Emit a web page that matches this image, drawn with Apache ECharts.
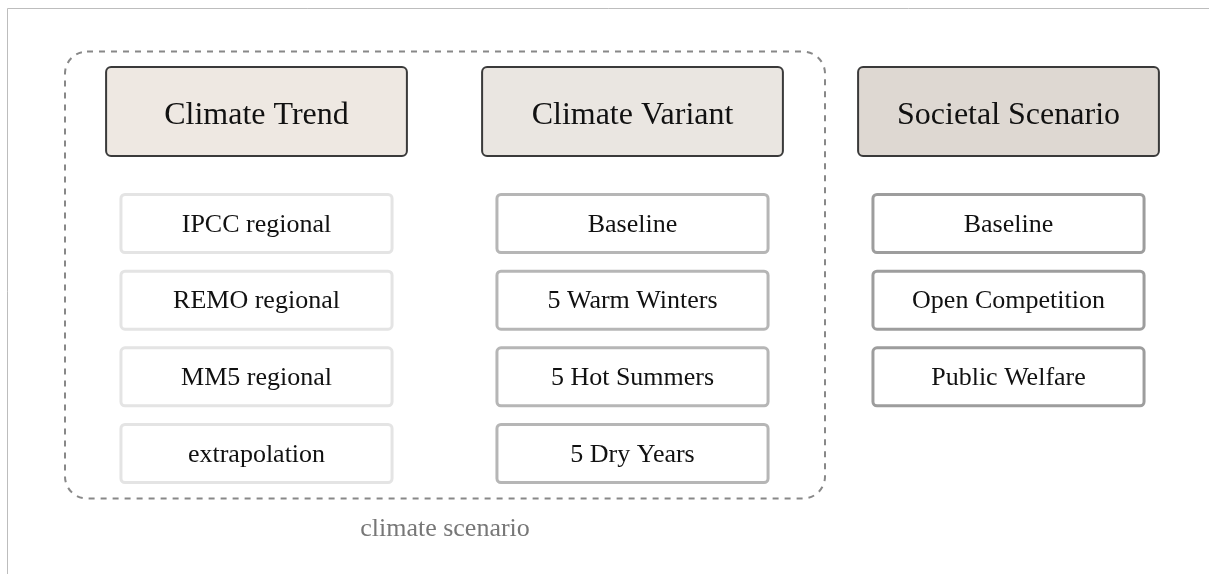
<!DOCTYPE html>
<html>
<head>
<meta charset="utf-8">
<script src="https://cdn.jsdelivr.net/npm/echarts@6/dist/echarts.min.js"></script>
<style>
  html, body { margin: 0; padding: 0; background: #fff; }
  #main { width: 1209px; height: 574px; }
</style>
</head>
<body>
<div id="main"></div>
<script>
  // columns of the scheme
  var columns = ['Climate Trend', 'Climate Variant', 'Societal Scenario'];
  // options listed under every column
  var trendOptions = ['IPCC regional', 'REMO regional', 'MM5 regional', 'extrapolation'];
  var variantOptions = ['Baseline', '5 Warm Winters', '5 Hot Summers', '5 Dry Years'];
  var societalOptions = ['Baseline', 'Open Competition', 'Public Welfare'];
  // dashed group round the first two columns
  var groupLabel = 'climate scenario';
  var groupColumns = [0, 1];

  var headerFill = ['#eee8e2', '#eae6e1', '#ded8d2'];
  var optionBorder = ['#e4e4e4', '#b6b6b6', '#9d9d9d'];
  var headerRow = -1.46;
  var serif = '"Liberation Serif", "DejaVu Serif", serif';

  var optionData = [];
  var optionNames = [];
  [trendOptions, variantOptions, societalOptions].forEach(function (list, c) {
    list.forEach(function (name, r) {
      optionData.push([c, r]);
      optionNames.push(name);
    });
  });
  var headerData = columns.map(function (name, c) {
    return [c, headerRow];
  });

  var chart = echarts.init(document.getElementById('main'));

  function renderHeader(params, api) {
    var p = api.coord([api.value(0), api.value(1)]);
    var unit = api.size([1, 1]);
    var w = unit[0] * 0.8, h = unit[1] * 1.161;
    return {
      type: 'rect',
      shape: {x: p[0] - w / 2, y: p[1] - h / 2, width: w, height: h, r: 5},
      style: {fill: headerFill[params.dataIndex], stroke: '#3a3a3a', lineWidth: 2},
      textContent: {
        style: {text: columns[params.dataIndex], font: '32px ' + serif, fill: '#111'}
      },
      textConfig: {position: 'inside', offset: [0, 4]}
    };
  }

  function renderOption(params, api) {
    var c = api.value(0);
    var p = api.coord([c, api.value(1)]);
    var unit = api.size([1, 1]);
    var w = unit[0] * 0.721, h = unit[1] * 0.757;
    return {
      type: 'rect',
      shape: {x: p[0] - w / 2, y: p[1] - h / 2, width: w, height: h, r: 4},
      style: {fill: '#fff', stroke: optionBorder[c], lineWidth: 3},
      textContent: {
        style: {text: optionNames[params.dataIndex], font: '26px ' + serif, fill: '#111'}
      },
      textConfig: {position: 'inside', offset: [0, 1.5]}
    };
  }

  function renderGroup(params, api) {
    var unit = api.size([1, 1]);
    var a = api.coord([groupColumns[0], headerRow]);
    var b = api.coord([groupColumns[1], trendOptions.length - 1]);
    var x0 = a[0] - unit[0] / 2 - 3.5;
    var x1 = b[0] + unit[0] / 2 + 4.5;
    var y0 = a[1] - 60;
    var y1 = b[1] + 45;
    return {
      type: 'group',
      children: [{
        type: 'rect',
        shape: {x: x0, y: y0, width: x1 - x0, height: y1 - y0, r: 22},
        style: {fill: 'none', stroke: '#888', lineWidth: 2, lineDash: [6, 6]}
      }, {
        type: 'text',
        style: {
          x: (x0 + x1) / 2, y: y1 + 31, text: groupLabel,
          font: '26px ' + serif, fill: '#777', align: 'center', verticalAlign: 'middle'
        }
      }]
    };
  }

  chart.setOption({
    animation: false,
    backgroundColor: '#fff',
    grid: {left: 68.5, right: 12.5, top: 70.17, bottom: 43.83},
    xAxis: {type: 'category', data: columns, show: false},
    yAxis: {type: 'value', min: -2, max: 4, inverse: true, show: false},
    graphic: [
      {type: 'line', shape: {x1: 7.5, y1: 8.5, x2: 1209, y2: 8.5}, style: {stroke: '#bdbdbd', lineWidth: 1}},
      {type: 'line', shape: {x1: 7.5, y1: 8.5, x2: 7.5, y2: 574}, style: {stroke: '#bdbdbd', lineWidth: 1}}
    ],
    series: [
      {type: 'custom', name: groupLabel, data: [[0, 0]], renderItem: renderGroup, silent: true, z: 1},
      {type: 'custom', name: 'headers', data: headerData, renderItem: renderHeader, z: 2},
      {type: 'custom', name: 'options', data: optionData, renderItem: renderOption, z: 2}
    ]
  });
</script>
</body>
</html>
